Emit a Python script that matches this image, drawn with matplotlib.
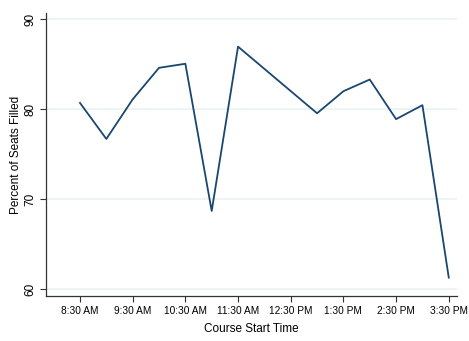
import matplotlib
matplotlib.use('Agg')
import matplotlib.pyplot as plt

# hora de inicio (horas decimales) y porcentaje de asientos ocupados
horas = [8.5, 9.0, 9.5, 10.0, 10.5, 11.0, 11.5, 13.0, 13.5, 14.0, 14.5, 15.0, 15.5]
ocupacion = [80.7, 76.7, 81.1, 84.6, 85.05, 68.7, 86.95, 79.55, 82.0, 83.3, 78.9, 80.45, 61.3]

ticks_x = [8.5, 9.5, 10.5, 11.5, 12.5, 13.5, 14.5, 15.5]
etiquetas_x = ['8:30 AM', '9:30 AM', '10:30 AM', '11:30 AM', '12:30 PM', '1:30 PM', '2:30 PM', '3:30 PM']
ticks_y = [60, 70, 80, 90]

plt.rcParams['font.family'] = ['Liberation Sans', 'DejaVu Sans']

fig = plt.figure(figsize=(4.69, 3.41), dpi=100)
ax = fig.add_axes([0.0987, 0.131, 0.875, 0.832])

ax.plot(horas, ocupacion, color='#1a476f', linewidth=1.3, zorder=3)

ax.set_xlim(7.86, 15.65)
ax.set_ylim(59.22, 90.73)
ax.set_xticks(ticks_x)
ax.set_xticklabels(etiquetas_x, fontsize=7.3)
ax.set_yticks(ticks_y)
ax.set_yticklabels([str(v) for v in ticks_y], fontsize=8.5, rotation=90, va='center')

ax.grid(axis='y', color='#eaf2f3', linewidth=1.2)
ax.set_axisbelow(True)
for lado in ['top', 'right']:
    ax.spines[lado].set_visible(False)
for lado in ['left', 'bottom']:
    ax.spines[lado].set_color('#333333')
    ax.spines[lado].set_linewidth(0.9)
ax.tick_params(length=4, width=0.8, color='#333333', pad=3)

ax.set_xlabel('Course Start Time', fontsize=8.5, labelpad=5)
ax.set_ylabel('Percent of Seats Filled', fontsize=8.5, labelpad=1.5)

fig.savefig('out.png', dpi=100)
